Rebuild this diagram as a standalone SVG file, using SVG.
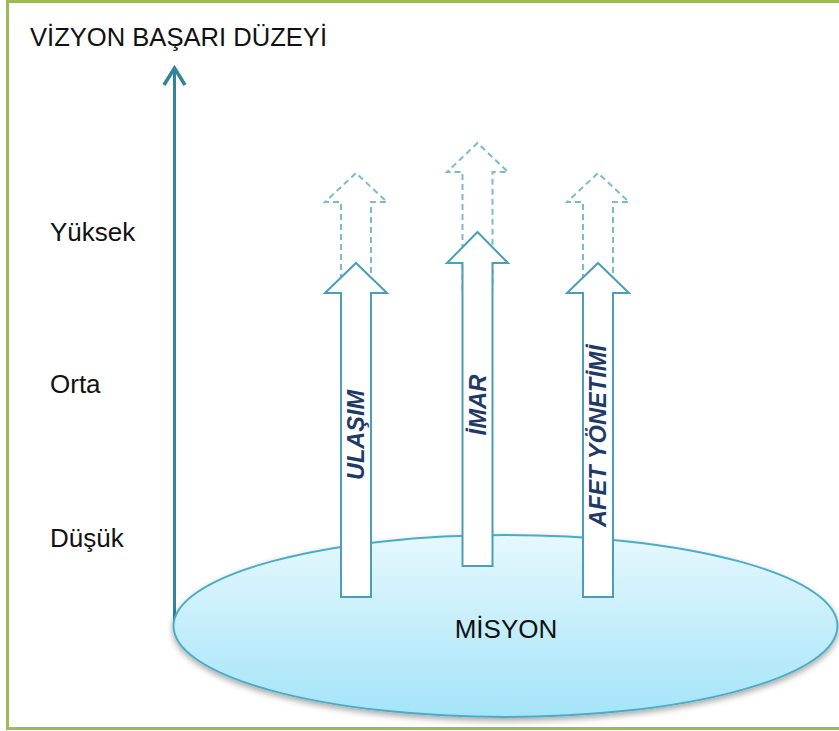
<svg xmlns="http://www.w3.org/2000/svg" width="839" height="731" viewBox="0 0 839 731">
<defs>
<linearGradient id="gEll" x1="0" y1="0" x2="0" y2="1">
<stop offset="0" stop-color="#E6F8FE"/>
<stop offset="1" stop-color="#A4E4F8"/>
</linearGradient>
<filter id="shadow" x="-10%" y="-20%" width="120%" height="150%">
<feDropShadow dx="0" dy="3" stdDeviation="3" flood-color="#000" flood-opacity="0.35"/>
</filter>
</defs>
<style>
.lbl{font-family:"Liberation Sans",Arial,sans-serif;font-size:26px;fill:#111;}
.vt{font-family:"Liberation Sans",Arial,sans-serif;font-size:23px;font-weight:bold;font-style:italic;fill:#1F3A66;}
.solid{fill:#fff;stroke:#4A9FB6;stroke-width:2;stroke-linejoin:miter;}
.dash{fill:none;stroke:#7DBBCB;stroke-width:2;stroke-dasharray:6,4;}
</style>
<rect x="0" y="0" width="839" height="731" fill="#fff"/>
<rect x="7.5" y="1.5" width="840" height="727" fill="none" stroke="#9BBB59" stroke-width="3"/>

<g id="title"><text class="lbl" x="30" y="46" textLength="297" lengthAdjust="spacingAndGlyphs">VİZYON BAŞARI DÜZEYİ</text></g>
<g id="yuksek"><text class="lbl" x="50" y="241">Yüksek</text></g>
<g id="orta"><text class="lbl" x="50" y="393">Orta</text></g>
<g id="dusuk"><text class="lbl" x="50" y="547">Düşük</text></g>

<g id="connectors">
<line x1="174.5" y1="626" x2="174.5" y2="70" stroke="#31849B" stroke-width="3"/>
<polyline points="164,85 174.5,68 185,85" fill="none" stroke="#31849B" stroke-width="3.5"/>
</g>

<g id="misyon">
<ellipse cx="505.5" cy="626" rx="332" ry="91" fill="url(#gEll)" stroke="#4BACC6" stroke-width="2" filter="url(#shadow)"/>
<text class="lbl" x="506" y="638" text-anchor="middle">MİSYON</text>
</g>

<g id="ulasim">
<path class="dash" d="M341,320 V202 H325 L356,173 L387,202 H371 V320"/>
<path class="solid" d="M341,597 V293 H325 L356,263 L387,293 H371 V597 Z"/>
<text class="vt" transform="rotate(-90 356 435)" x="356" y="443" text-anchor="middle" textLength="90" lengthAdjust="spacingAndGlyphs">ULAŞIM</text>
</g>

<g id="imar">
<path class="dash" d="M462.5,290 V172 H447 L477.5,143 L508,172 H492.5 V290"/>
<path class="solid" d="M462.5,566 V263 H447 L477.5,232 L508,263 H492.5 V566 Z"/>
<text class="vt" transform="rotate(-90 477.5 405)" x="477.5" y="413" text-anchor="middle" textLength="61" lengthAdjust="spacingAndGlyphs">İMAR</text>
</g>

<g id="afet">
<path class="dash" d="M583,320 V202 H567 L598,173 L629,202 H613 V320"/>
<path class="solid" d="M583,597 V293 H567 L598,263 L629,293 H613 V597 Z"/>
<text class="vt" transform="rotate(-90 598 436)" x="598" y="444" text-anchor="middle" textLength="182" lengthAdjust="spacingAndGlyphs">AFET YÖNETİMİ</text>
</g>
</svg>
